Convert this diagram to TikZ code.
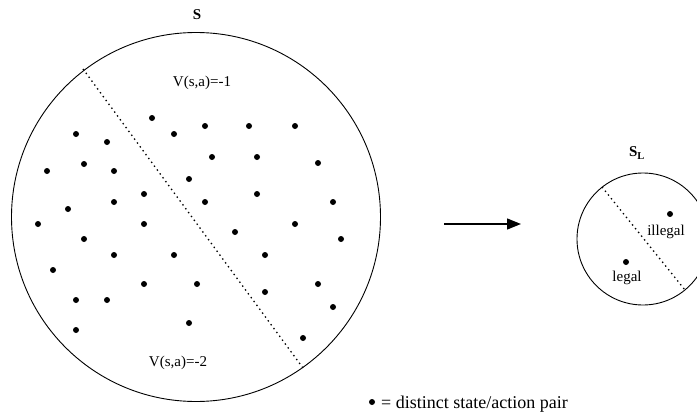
\documentclass[tikz,border=0pt]{standalone}
\usepackage{fontspec}
\setmainfont{Liberation Serif}
\usetikzlibrary{arrows.meta}
\tikzset{
  pt/.style={circle,fill=black,inner sep=0pt,minimum size=6pt},
  region/.style={draw=black,line width=0.9pt},
  split/.style={line width=1.3pt,dash pattern=on 1.4pt off 3.4pt},
  lbl/.style={font=\fontsize{15}{17}\selectfont,inner sep=0pt},
  keylbl/.style={font=\fontsize{18}{20}\selectfont,inner sep=0pt},
  title/.style={font=\fontsize{15}{17}\selectfont\bfseries,inner sep=0pt}
}
\begin{document}
\begin{tikzpicture}[x=1pt,y=-1pt]
\useasboundingbox (0,0) rectangle (697,415);
% big set S
\node[region,circle,minimum size=369pt,inner sep=0pt] (S) at (196,217) {};
\node[title] (Slab) at (197,15) {S};
\coordinate (s1) at (83,69);
\coordinate (s2) at (303,368);
\draw[split] (s1) -- (s2);
\node[lbl] (v1) at (202,83) {V(s,a)=-1};
\node[lbl] (v2) at (178,363) {V(s,a)=-2};
\foreach \i/\x/\y in {1/152/118,2/76/134,3/107/142,4/174/134,5/205/126,6/249/126,7/295/126,
 8/84/164,9/47/171,10/114/171,11/212/157,12/257/157,13/318/163,14/189/179,15/144/194,
 16/114/202,17/68/209,18/205/202,19/257/194,20/333/202,21/38/224,22/144/224,23/295/224,
 24/235/232,25/341/239,26/84/239,27/114/255,28/174/255,29/265/255,30/53/270,31/144/284,
 32/197/284,33/318/284,34/265/292,35/76/300,36/107/300,37/333/307,38/189/323,39/303/338,40/76/330}
  \node[pt] (d\i) at (\x,\y) {};
% arrow
\coordinate (a1) at (444,224);
\coordinate (a2) at (521,224);
\draw[line width=1.3pt,-{Triangle[length=14pt,width=11pt]}] (a1) -- (a2);
% small set S_L
\node[region,circle,minimum size=132pt,inner sep=0pt] (SL) at (643,239) {};
\node[title] (SLlab) at (637,153) {S$_{\mathbf{L}}$};
\coordinate (t1) at (602,187);
\coordinate (t2) at (685,290);
\draw[split] (t1) -- (t2);
\node[pt] (ill) at (670,214) {};
\node[lbl] (illt) at (666,232) {illegal};
\node[pt] (leg) at (626,262) {};
\node[lbl] (legt) at (627,278) {legal};
% legend
\node[pt] (key) at (372,402) {};
\node[keylbl,anchor=base west] (keyt) at (381,408) {= distinct state/action pair};
\end{tikzpicture}
\end{document}
